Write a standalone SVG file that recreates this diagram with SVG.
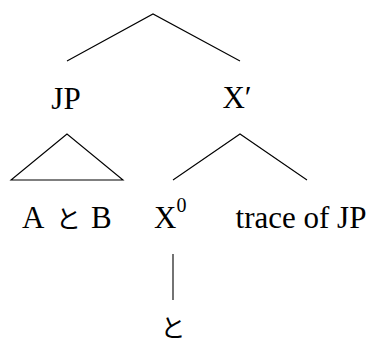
<svg xmlns="http://www.w3.org/2000/svg" width="379" height="345" viewBox="0 0 379 345">
<style>
.e{stroke:#000;stroke-width:1.1;fill:none}
.t{font-family:"Liberation Serif","DejaVu Serif",serif;font-size:31px;fill:#000}
.j{font-family:"Noto Sans CJK JP",sans-serif;font-size:25px}
.s{font-size:20px}
</style>
<rect width="379" height="345" fill="#fff"/>
<g id="edges">
<polyline class="e" points="67,61 153,14 240,61"/>
<polygon class="e" points="67,134 11,180 123,180"/>
<polyline class="e" points="173,180 240,134 307,180"/>
<line class="e" x1="173" y1="254" x2="173" y2="300"/>
</g>
<g id="n-jp"><text class="t" x="66" y="109" text-anchor="middle">JP</text></g>
<g id="n-xbar"><text class="t" x="237" y="108" text-anchor="middle">X′</text></g>
<g id="n-atob"><text class="t" y="228"><tspan x="22">A</tspan><tspan class="j" x="56">と</tspan><tspan x="91">B</tspan></text></g>
<g id="n-x0"><text class="t" x="154" y="228">X<tspan class="s" dy="-16">0</tspan></text></g>
<g id="n-trace"><text class="t" x="301" y="228" text-anchor="middle">trace of JP</text></g>
<g id="n-to"><text class="t j" x="173" y="337" text-anchor="middle">と</text></g>
</svg>
